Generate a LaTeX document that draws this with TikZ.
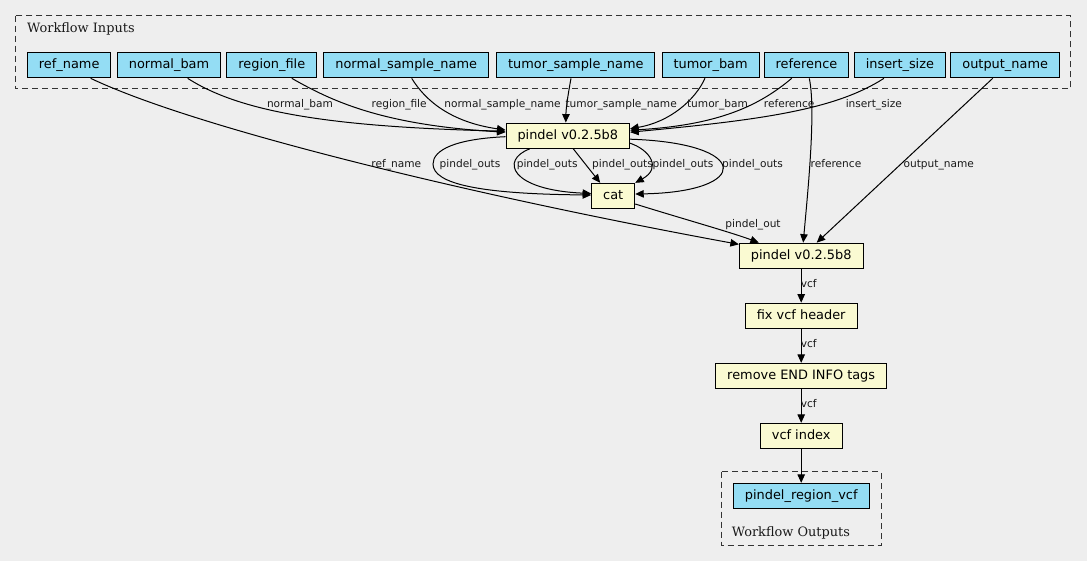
\documentclass[tikz,border=0pt]{standalone}
\usepackage{fontspec}
\setmainfont{DejaVu Sans}
\newfontfamily\clusterfont{DejaVu Serif}
\usetikzlibrary{arrows.meta}
\definecolor{bg}{HTML}{EEEEEE}
\definecolor{inpfill}{HTML}{94DDF4}
\definecolor{toolfill}{HTML}{FAFAD2}
\begin{document}
\begin{tikzpicture}[x=1pt,y=-1pt,
  box/.style={draw=black, line width=1pt, inner xsep=11.5pt, inner ysep=0pt, minimum height=25.3pt, text height=9.6pt, text depth=2.8pt, font=\fontsize{12.9}{15}\selectfont, text=black},
  inbox/.style={box, fill=inpfill},
  toolbox/.style={box, fill=toolfill},
  conn/.style={draw=black, line width=1pt, -{Triangle[length=8.5pt,width=7.5pt]}},
  elabel/.style={font=\fontsize{10.6}{12}\selectfont, text=black!90, inner sep=0pt, text height=8pt, text depth=2.4pt},
  cluster/.style={draw=black!80, line width=1pt, dash pattern=on 6pt off 4pt},
  ctitle/.style={font=\clusterfont\fontsize{12.9}{15}\selectfont, anchor=base west, inner sep=0pt, text=black!90}
]
\fill[bg] (0,0) rectangle (1087,561);
\useasboundingbox (0,0) rectangle (1087,561);

% clusters
\draw[cluster] (15.7,15.7) rectangle (1070.7,89);
\node[ctitle] (tin) at (27,32.3) {Workflow Inputs};
\draw[cluster] (721,471.7) rectangle (881.3,545);
\node[ctitle] (tout) at (731.7,536.5) {Workflow Outputs};

% inputs
\node[inbox] (refname) at (69.2,65.2) {ref\_name};
\node[inbox] (normalbam) at (169,65.2) {normal\_bam};
\node[inbox] (regionfile) at (271.8,65.2) {region\_file};
\node[inbox] (nsn) at (406.2,65.2) {normal\_sample\_name};
\node[inbox] (tsn) at (575.8,65.2) {tumor\_sample\_name};
\node[inbox] (tumorbam) at (710.6,65.2) {tumor\_bam};
\node[inbox] (reference) at (806.5,65.2) {reference};
\node[inbox] (insertsize) at (899.9,65.2) {insert\_size};
\node[inbox] (outputname) at (1005.2,65.2) {output\_name};

% tools
\node[toolbox] (p1) at (567.8,135.7) {pindel v0.2.5b8};
\node[toolbox] (cat) at (613.2,196) {cat};
\node[toolbox] (p2) at (801.2,255.8) {pindel v0.2.5b8};
\node[toolbox] (fix) at (801.2,315.8) {fix vcf header};
\node[toolbox] (rem) at (801.2,376) {remove END INFO tags};
\node[toolbox] (idx) at (801.2,436) {vcf index};
\node[inbox] (out) at (801.2,496) {pindel\_region\_vcf};

% input edges
\draw[conn] ([xshift=21.5pt]refname.south) .. controls (195,128) and (470,195) .. ([yshift=-1.7pt]p2.north west);
\node[elabel] at (396.3,165) {ref\_name};
\draw[conn] ([xshift=18.7pt]normalbam.south) .. controls (240,112) and (330,127) .. ([yshift=4.5pt]p1.west);
\node[elabel] at (300,104.3) {normal\_bam};
\draw[conn] ([xshift=20pt]regionfile.south) .. controls (330,100) and (380,125) .. ([yshift=3.5pt]p1.west);
\node[elabel] at (399.2,104.3) {region\_file};
\draw[conn] ([xshift=5.5pt]nsn.south) .. controls (425,100) and (450,122) .. ([yshift=5.7pt]p1.west);
\node[elabel] at (502.5,104.3) {normal\_sample\_name};
\draw[conn] ([xshift=-4.8pt]tsn.south) .. controls (567,100) and (566,110) .. ([xshift=-2pt]p1.north);
\node[elabel] at (621.2,104.3) {tumor\_sample\_name};
\draw[conn] ([xshift=-5.6pt]tumorbam.south) .. controls (695,100) and (670,122) .. ([yshift=7pt]p1.east);
\node[elabel] at (717.5,104.3) {tumor\_bam};
\draw[conn] ([xshift=-14.8pt]reference.south) .. controls (760,105) and (720,125) .. ([yshift=5.5pt]p1.east);
\node[elabel] at (789.2,104.3) {reference};
\draw[conn] ([xshift=-16pt]insertsize.south) .. controls (835,110) and (760,120) .. ([yshift=3.5pt]p1.east);
\node[elabel] at (873.8,104.3) {insert\_size};
\draw[conn] ([xshift=2.8pt]reference.south) .. controls (816,110) and (808,190) .. ([xshift=2pt]p2.north);
\node[elabel] at (836,165) {reference};
\draw[conn] ([xshift=-12.5pt]outputname.south) -- ([xshift=15.5pt]p2.north);
\node[elabel] at (938.7,165) {output\_name};

% pindel -> cat
\draw[conn] ([yshift=-1pt]p1.west) .. controls (455,139) and (433,150) .. (433,164) .. controls (433,184) and (480,194) .. ([yshift=1pt]cat.west);
\node[elabel] at (470,165) {pindel\_outs};
\draw[conn] ([xshift=-38pt]p1.south) .. controls (500,160) and (510,190) .. ([yshift=2.5pt]cat.west);
\node[elabel] at (547.2,165) {pindel\_outs};
\draw[conn] ([xshift=5.5pt]p1.south) -- ([xshift=-13pt]cat.north);
\node[elabel] at (622.5,165) {pindel\_outs};
\draw[conn] ([yshift=-7.5pt]p1.east) .. controls (650,150) and (662,168) .. (cat.north east);
\node[elabel] at (683,165) {pindel\_outs};
\draw[conn] ([yshift=-3.5pt]p1.east) .. controls (752,143) and (752,192) .. ([yshift=2pt]cat.east);
\node[elabel] at (752.5,165) {pindel\_outs};

% cat -> pindel2
\draw[conn] ([yshift=-8pt]cat.east) .. controls (680,218) and (730,232) .. ([xshift=20pt]p2.north west);
\node[elabel] at (753,225) {pindel\_out};

% chain
\draw[conn] (p2.south) -- (fix.north);
\node[elabel] at (808.8,284.5) {vcf};
\draw[conn] (fix.south) -- (rem.north);
\node[elabel] at (808.8,344.7) {vcf};
\draw[conn] (rem.south) -- (idx.north);
\node[elabel] at (808.8,404.7) {vcf};
\draw[conn] (idx.south) -- (out.north);
\end{tikzpicture}
\end{document}
